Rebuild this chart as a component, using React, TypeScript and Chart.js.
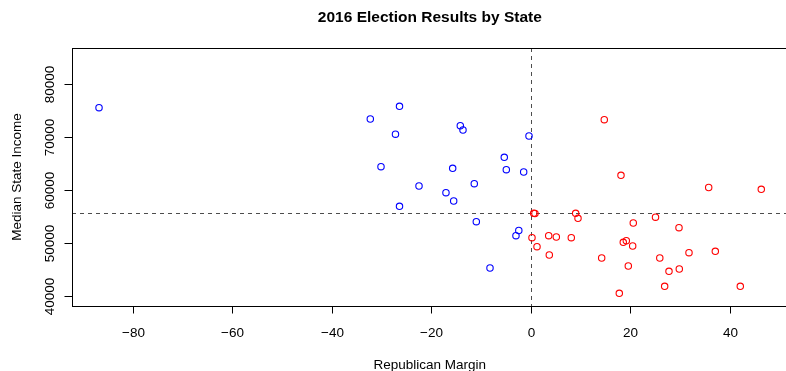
import React, { useEffect, useRef } from "react";
import { Chart, registerables } from "chart.js";

Chart.register(...registerables);

const titleText = "2016 Election Results by State";
const xLabel = "Republican Margin";
const yLabel = "Median State Income";

const xTicks = [-80, -60, -40, -20, 0, 20, 40];
const yTicks = [40000, 50000, 60000, 70000, 80000];

const medianIncome = 55700;

// Clinton-won states (blue)
const demMargin = [-86.83, -32.3, -27.24, -30.15, -26.43, -14.21, -13.67, -0.4, -5.37, -15.74, -4.96, -1.47, -22.51, -11.4, -17.09, -15.54, -26.43, -10.99, -2.45, -3.02, -8.24];
const demIncome = [75525, 73396, 70533, 64411, 75788, 72134, 71325, 70194, 66182, 64110, 63846, 63413, 60776, 61209, 59514, 57951, 56952, 54052, 52394, 51415, 45331];

// Trump-won states (red)
const repMargin = [14.73, 18.09, 35.72, 46.29, 0.54, 0.8, 0.2, 1.21, 3.56, 5.09, 8.1, 3.68, 8.98, 9.45, 20.56, 25.03, 18.55, 19.16, 20.44, 14.21, 19.56, 17.75, 25.89, 29.75, 31.76, 37.05, 27.74, 29.81, 26.87, 42.07];
const repIncome = [73264, 62792, 60494, 60155, 55653, 55596, 51038, 49343, 51415, 51170, 51038, 47779, 55634, 54692, 53807, 54899, 50171, 50473, 49475, 47214, 45707, 40565, 47214, 52921, 48213, 48476, 44709, 45142, 41884, 41884];

const fmt = (v: number) => (v < 0 ? "\u2212" + Math.abs(v) : String(v));

const rStylePlugin = {
  id: "rStyle",
  beforeDatasetsDraw(chart: any) {
    const ctx = chart.ctx;
    const xs = chart.scales.x;
    const ys = chart.scales.y;
    const a = chart.chartArea;
    ctx.save();
    ctx.strokeStyle = "#4d4d4d";
    ctx.lineWidth = 1;
    ctx.setLineDash([4, 4]);
    const hy = Math.round(ys.getPixelForValue(medianIncome)) + 0.5;
    ctx.beginPath();
    ctx.moveTo(a.left, hy);
    ctx.lineTo(a.right + 10, hy);
    ctx.stroke();
    const vx = Math.round(xs.getPixelForValue(0)) + 0.5;
    ctx.beginPath();
    ctx.moveTo(vx, a.top);
    ctx.lineTo(vx, a.bottom);
    ctx.stroke();
    ctx.restore();
  },
  afterDraw(chart: any) {
    const ctx = chart.ctx;
    const xs = chart.scales.x;
    const ys = chart.scales.y;
    const a = chart.chartArea;
    ctx.save();
    ctx.strokeStyle = "#000000";
    ctx.lineWidth = 1;
    ctx.setLineDash([]);
    // box
    ctx.strokeRect(a.left + 0.5, a.top + 0.5, a.right - a.left + 20, a.bottom - a.top);
    ctx.fillStyle = "#000000";
    ctx.font = "13.5px 'Liberation Sans', Arial, sans-serif";
    // x ticks
    ctx.textAlign = "center";
    ctx.textBaseline = "alphabetic";
    xTicks.forEach((t) => {
      const px = Math.round(xs.getPixelForValue(t)) + 0.5;
      ctx.beginPath();
      ctx.moveTo(px, a.bottom);
      ctx.lineTo(px, a.bottom + 7.5);
      ctx.stroke();
      ctx.fillText(fmt(t), px, 337);
    });
    // y ticks
    yTicks.forEach((t) => {
      const py = Math.round(ys.getPixelForValue(t)) + 0.5;
      ctx.beginPath();
      ctx.moveTo(a.left, py);
      ctx.lineTo(a.left - 7.5, py);
      ctx.stroke();
      ctx.save();
      ctx.translate(53.5, py);
      ctx.rotate(-Math.PI / 2);
      ctx.textAlign = "center";
      ctx.fillText(String(t), 0, 0);
      ctx.restore();
    });
    const cx = (xs.getPixelForValue(xs.min) + xs.getPixelForValue(51.6)) / 2;
    // axis titles
    ctx.textAlign = "center";
    ctx.fillText(xLabel, cx, 368.5);
    ctx.save();
    ctx.translate(20.5, (a.top + a.bottom) / 2);
    ctx.rotate(-Math.PI / 2);
    ctx.fillText(yLabel, 0, 0);
    ctx.restore();
    // main title
    ctx.font = "bold 15.5px 'Liberation Sans', Arial, sans-serif";
    ctx.fillText(titleText, cx, 22);
    ctx.restore();
  },
};

export default function App() {
  const ref = useRef<HTMLCanvasElement | null>(null);
  useEffect(() => {
    document.body.style.margin = "0";
    if (!ref.current) return;
    const chart = new Chart(ref.current, {
      type: "scatter",
      data: {
        datasets: [
          {
            label: "Clinton",
            data: demMargin.map((x, i) => ({ x, y: demIncome[i] })),
            borderColor: "#0000FF",
            backgroundColor: "rgba(0,0,0,0)",
            pointRadius: 3.2,
            pointBorderWidth: 1.1,
          },
          {
            label: "Trump",
            data: repMargin.map((x, i) => ({ x, y: repIncome[i] })),
            borderColor: "#FF0000",
            backgroundColor: "rgba(0,0,0,0)",
            pointRadius: 3.2,
            pointBorderWidth: 1.1,
          },
        ],
      },
      options: {
        animation: false,
        responsive: false,
        devicePixelRatio: 1,
        layout: { autoPadding: false, padding: { left: 72, top: 48, right: 0, bottom: 65 } },
        plugins: { legend: { display: false }, title: { display: false }, tooltip: { enabled: false } },
        scales: {
          x: { type: "linear", display: false, min: -92.26, max: 51.26 },
          y: { type: "linear", display: false, min: 38173, max: 86770 },
        },
      },
      plugins: [rStylePlugin],
    });
    return () => chart.destroy();
  }, []);
  return (
    <div style={{ position: "absolute", left: 0, top: 0, width: 786, height: 371, background: "#fff" }}>
      <canvas ref={ref} width={786} height={371} />
    </div>
  );
}
